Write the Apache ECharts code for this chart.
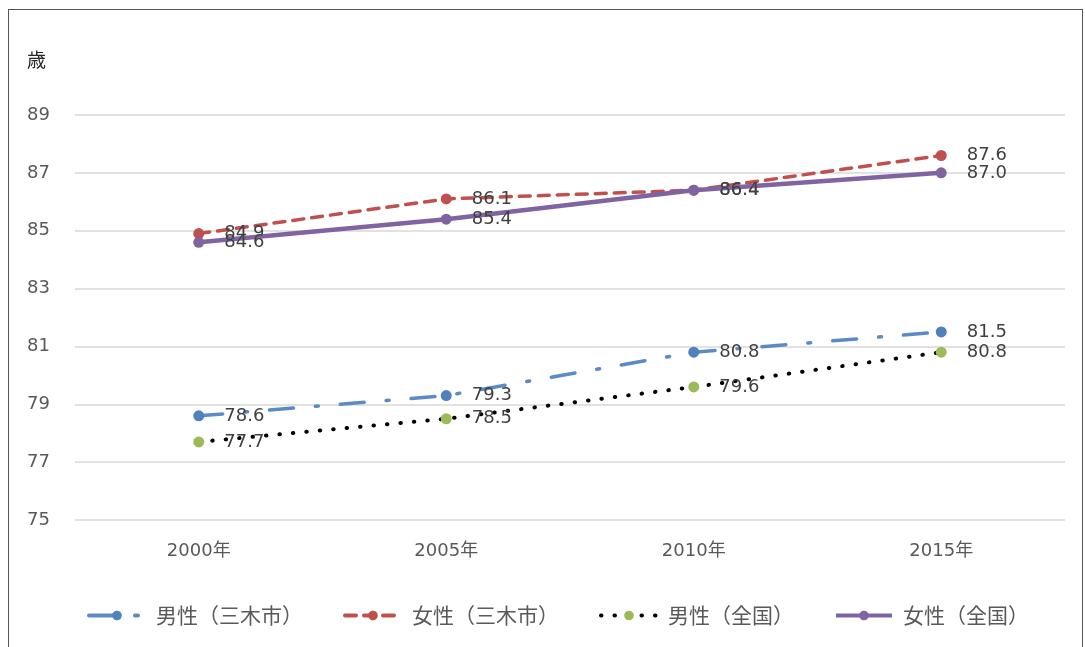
<!DOCTYPE html>
<html>
<head>
<meta charset="utf-8">
<script src="https://cdn.jsdelivr.net/npm/echarts@6/dist/echarts.min.js"></script>
<style>
  html, body { margin: 0; padding: 0; background: #fff; }
  #frame { position: absolute; left: 8px; top: 9px; width: 1075px; height: 660px; border-left: 1.5px solid #555; border-top: 1.5px solid #555; border-right: 1.5px solid #555; box-sizing: border-box; }
  #chart { position: absolute; left: 0; top: 0; width: 1085px; height: 647px; }
</style>
</head>
<body>
<div id="frame"></div>
<div id="chart"></div>
<script>
// 平均寿命の推移（三木市・全国）
const years = ['2000年', '2005年', '2010年', '2015年'];
const maleMiki = [78.6, 79.3, 80.8, 81.5];
const femaleMiki = [84.9, 86.1, 86.4, 87.6];
const maleJapan = [77.7, 78.5, 79.6, 80.8];
const femaleJapan = [84.6, 85.4, 86.4, 87.0];
const seriesNames = ['男性（三木市）', '女性（三木市）', '男性（全国）', '女性（全国）'];
const yTicks = { min: 75, max: 89, step: 2 };

const CJK = '"Noto Sans CJK JP", "Noto Sans", sans-serif';
const NUM = '"DejaVu Sans", "Noto Sans CJK JP", sans-serif';
const labelStyle = {
  show: true,
  position: 'right',
  distance: 20,
  color: '#404040',
  fontSize: 18,
  fontFamily: NUM,
  formatter: p => p.value.toFixed(1)
};

const chart = echarts.init(document.getElementById('chart'), null, { renderer: 'canvas' });
chart.setOption({
  animation: false,
  backgroundColor: 'transparent',
  grid: { left: 75, right: 20, top: 115, bottom: 127 },
  graphic: [{
    type: 'text', left: 27, top: 50,
    style: { text: '歳', fontSize: 19, fontFamily: CJK, fill: '#262626' }
  }],
  legend: {
    bottom: 16,
    left: 82,
    itemWidth: 56,
    itemHeight: 12,
    itemGap: 40,
    lineStyle: { width: 4 },
    textStyle: { fontSize: 21, fontFamily: CJK, color: '#595959', padding: [0, 0, 0, 6] },
    data: seriesNames
  },
  xAxis: {
    type: 'category',
    data: years,
    boundaryGap: true,
    axisLine: { show: false },
    axisTick: { show: false },
    axisLabel: { color: '#595959', fontSize: 18, fontFamily: NUM, margin: 22 }
  },
  yAxis: {
    type: 'value',
    min: yTicks.min,
    max: yTicks.max,
    interval: yTicks.step,
    axisLine: { show: false },
    axisTick: { show: false },
    splitLine: { lineStyle: { color: '#d9d9d9', width: 1.5 } },
    axisLabel: { color: '#595959', fontSize: 18, fontFamily: NUM, margin: 25 }
  },
  series: [
    {
      name: seriesNames[0], type: 'line', data: maleMiki,
      symbol: 'circle', symbolSize: 11,
      itemStyle: { color: '#4F81BD' },
      lineStyle: { color: '#5B8BC6', width: 3.5, type: [24, 22, 3, 22], cap: 'round' },
      label: labelStyle, z: 3
    },
    {
      name: seriesNames[1], type: 'line', data: femaleMiki,
      symbol: 'circle', symbolSize: 11,
      itemStyle: { color: '#C0504D' },
      lineStyle: { color: '#C0504D', width: 3.5, type: [11, 8], cap: 'round' },
      label: labelStyle, z: 3
    },
    {
      name: seriesNames[2], type: 'line', data: maleJapan,
      symbol: 'circle', symbolSize: 11,
      itemStyle: { color: '#9BBB59' },
      lineStyle: { color: '#000000', width: 4, type: [0.5, 13], cap: 'round' },
      label: labelStyle, z: 3
    },
    {
      name: seriesNames[3], type: 'line', data: femaleJapan,
      symbol: 'circle', symbolSize: 11,
      itemStyle: { color: '#8064A2' },
      lineStyle: { color: '#8064A2', width: 4.5 },
      label: labelStyle, z: 4
    }
  ]
});
</script>
</body>
</html>
